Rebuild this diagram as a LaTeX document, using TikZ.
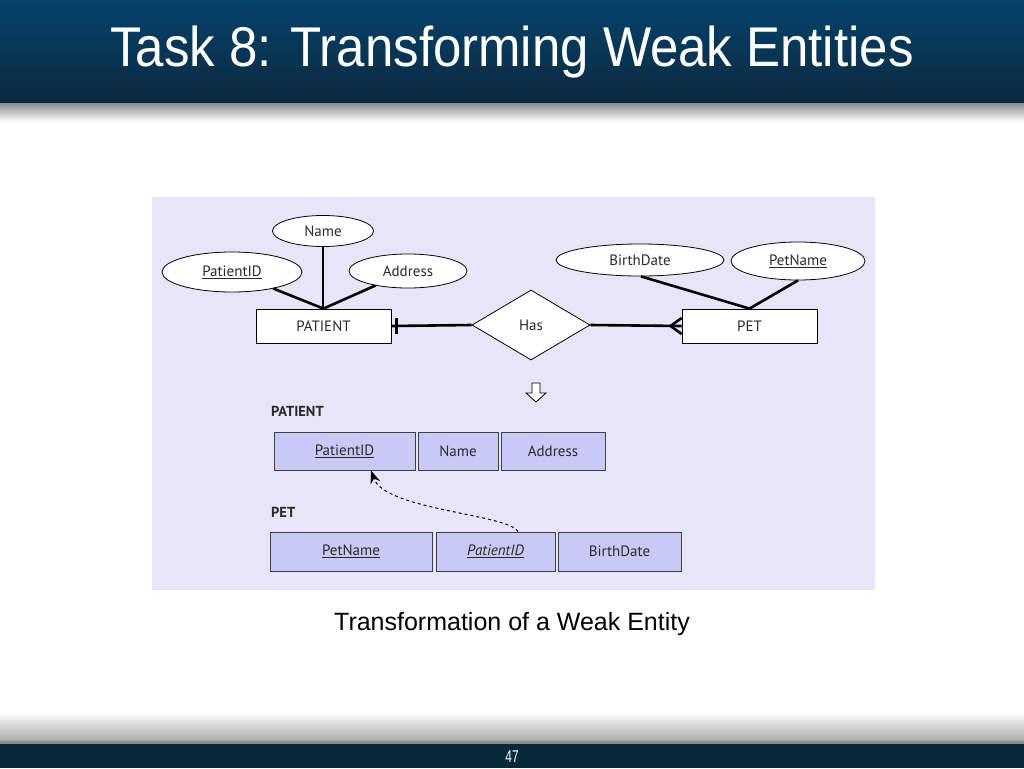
\documentclass[tikz,border=0pt]{standalone}
\usepackage{fontspec}
\setmainfont{Liberation Sans}
\newfontfamily\diag{PT Sans}
\usetikzlibrary{shapes.geometric,arrows.meta,calc}
\definecolor{navytop}{HTML}{06426C}
\definecolor{navybot}{HTML}{0B2A3E}
\definecolor{footbar}{HTML}{062838}
\definecolor{panel}{HTML}{E6E6F8}
\definecolor{cellfill}{HTML}{C9C9F5}
\definecolor{dtext}{HTML}{2A2A2A}
\begin{document}
\begin{tikzpicture}[x=1pt,y=-1pt,
  attr/.style={ellipse,draw=black,line width=0.8pt,fill=white,inner sep=0pt,text=dtext,font=\diag\fontsize{15}{17}\selectfont},
  entity/.style={rectangle,draw=black,line width=0.8pt,fill=white,minimum width=135pt,minimum height=34pt,inner sep=0pt,text=dtext,font=\diag\fontsize{15}{17}\selectfont},
  rel/.style={diamond,draw=black,line width=0.8pt,fill=white,minimum width=118pt,minimum height=70pt,inner sep=0pt,text=dtext,font=\diag\fontsize{15}{17}\selectfont},
  cell/.style={rectangle,draw=black!75,line width=0.9pt,fill=cellfill,inner sep=0pt,text=dtext,font=\diag\fontsize{15}{17}\selectfont},
  tlabel/.style={anchor=west,inner sep=0pt,text=dtext,font=\diag\bfseries\fontsize{14.5}{16}\selectfont},
  link/.style={line width=2.6pt,black},
  thin link/.style={line width=1.8pt,black}]
\useasboundingbox (0,0) rectangle (1024,768);
% background
\fill[white] (0,0) rectangle (1024,768);
% header
\shade[top color=navytop,bottom color=navybot] (0,0) rectangle (1024,103);
\shade[top color=black!45,bottom color=white] (0,103) rectangle (1024,122);
\node[text=white,font=\fontsize{56}{60}\selectfont,inner sep=0pt] (title) at (512,52) {\scalebox{0.91}[1]{Task 8: Transforming Weak Entities}};
% footer
\shade[top color=white,bottom color=black!35] (0,712) rectangle (1024,742);
\fill[black!45] (0,741) rectangle (1024,744);
\fill[footbar] (0,744) rectangle (1024,768);
\node[text=white,font=\fontsize{17}{18}\selectfont,inner sep=0pt] (pageno) at (512,757) {\scalebox{0.7}[1]{47}};
% panel
\fill[panel] (152,197) rectangle (875,590);
% ER diagram
\node[attr,minimum width=101pt,minimum height=31pt] (name) at (323,231) {Name};
\node[attr,minimum width=140pt,minimum height=40pt] (pid) at (232,272) {\underline{PatientID}};
\node[attr,minimum width=118pt,minimum height=34pt] (addr) at (408,271) {Address};
\node[entity] (patient) at (323.5,326) {PATIENT};
\node[rel] (has) at (531,325) {Has};
\node[entity] (pet) at (749.5,326) {PET};
\node[attr,minimum width=168pt,minimum height=32pt] (bd) at (640,260) {BirthDate};
\node[attr,minimum width=134pt,minimum height=38pt] (pn) at (798,261) {\underline{PetName}};
\draw[thin link] (name) -- (name |- patient.north);
\draw[link] (pid) -- (patient.north);
\draw[link] (addr) -- (patient.north);
\draw[link] ([xshift=1]bd.south) -- (pet.north);
\draw[link] (pn.south) -- (pet.north);
\draw[link] (patient.east) -- (has.west);
\draw[link] ([xshift=5]patient.east) ++(0,-8) -- ++(0,16);
\draw[link] (has.east) -- (pet.west);
\draw[link] ([xshift=-11]pet.west) -- ([yshift=-8]pet.west);
\draw[link] ([xshift=-11]pet.west) -- ([yshift=8]pet.west);
% hollow down arrow
\draw[black,line width=0.8pt,fill=white] (532,383) -- (540,383) -- (540,393) -- (546,393) -- (536,402) -- (526,393) -- (532,393) -- cycle;
% relational tables
\node[tlabel] (lblpatient) at (271,411) {PATIENT};
\node[cell,minimum width=141pt,minimum height=38pt] (t1pid) at (344.5,451) {\underline{PatientID}};
\node[cell,minimum width=80pt,minimum height=38pt] (t1name) at (458,451) {Name};
\node[cell,minimum width=104pt,minimum height=38pt] (t1addr) at (553,451) {Address};
\node[tlabel] (lblpet) at (271,512) {PET};
\node[cell,minimum width=162pt,minimum height=39pt] (t2pn) at (351,551.5) {\underline{PetName}};
\node[cell,minimum width=119pt,minimum height=39pt] (t2pid) at (495.5,551.5) {\underline{\itshape PatientID}};
\node[cell,minimum width=123pt,minimum height=39pt] (t2bd) at (619.5,551.5) {BirthDate};
\draw[black,line width=1pt,dashed,-{Stealth[length=13pt,width=10pt]}] ([xshift=22.5]t2pid.north) .. controls (508,514) and (385,510) .. ([xshift=26.5]t1pid.south);
% caption
\node[font=\fontsize{25}{28}\selectfont,inner sep=0pt] (caption) at (512,624) {Transformation of a Weak Entity};
\end{tikzpicture}
\end{document}
